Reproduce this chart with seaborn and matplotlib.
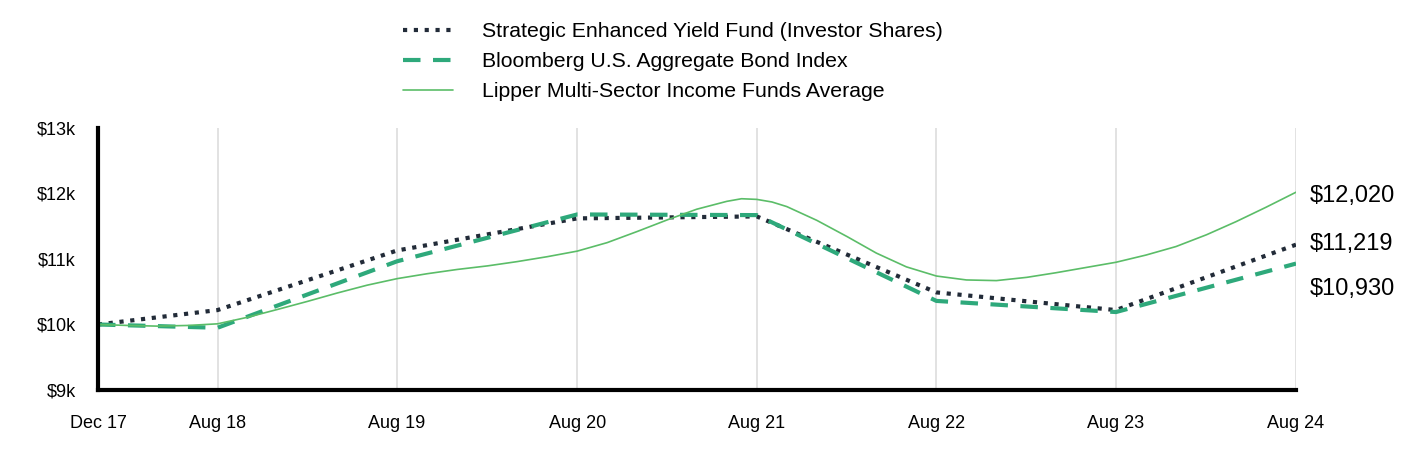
"""Growth of a $10,000 investment: fund vs. index vs. peer average."""

import matplotlib
matplotlib.use("Agg")
import matplotlib.pyplot as plt
import seaborn as sns
import pandas as pd

# yearly points for the fund and the index
dates = ["2017-12-01", "2018-08-01", "2019-08-01", "2020-08-01",
         "2021-08-01", "2022-08-01", "2023-08-01", "2024-08-01"]
tick_labels = ["Dec 17", "Aug 18", "Aug 19", "Aug 20",
               "Aug 21", "Aug 22", "Aug 23", "Aug 24"]
fund = [10000, 10220, 11130, 11620, 11650, 10490, 10220, 11219]
bloomberg = [10000, 9950, 10965, 11680, 11670, 10360, 10190, 10930]

# peer average at more dates
lipper_dates = ["2017-12-01", "2018-02-01", "2018-04-01", "2018-06-01",
                "2018-08-01", "2018-10-01", "2018-12-01", "2019-02-01",
                "2019-04-01", "2019-06-01", "2019-08-01", "2019-10-01",
                "2019-12-01", "2020-02-01", "2020-04-01", "2020-06-01",
                "2020-08-01", "2020-10-01", "2020-12-01", "2021-02-01",
                "2021-04-01", "2021-06-01", "2021-07-01", "2021-08-01",
                "2021-09-01", "2021-10-01", "2021-12-01", "2022-02-01",
                "2022-04-01", "2022-06-01", "2022-08-01", "2022-10-01",
                "2022-12-01", "2023-02-01", "2023-04-01", "2023-06-01",
                "2023-08-01", "2023-10-01", "2023-12-01", "2024-02-01",
                "2024-04-01", "2024-06-01", "2024-08-01"]
lipper = [10000, 9985, 9975, 9985,
          10010, 10110, 10230, 10355,
          10480, 10600, 10700, 10775,
          10840, 10895, 10960, 11035,
          11120, 11250, 11420, 11600,
          11760, 11880, 11920, 11910,
          11870, 11800, 11590, 11340,
          11090, 10880, 10740, 10680,
          10670, 10720, 10790, 10870,
          10950, 11060, 11190, 11370,
          11570, 11790, 12020]

series_names = ["Strategic Enhanced Yield Fund (Investor Shares)",
                "Bloomberg U.S. Aggregate Bond Index",
                "Lipper Multi-Sector Income Funds Average"]
end_labels = ["$11,219", "$10,930", "$12,020"]

sns.set_style("white")
plt.rcParams["font.family"] = ["Liberation Sans", "DejaVu Sans"]
plt.rcParams["text.color"] = "black"
plt.rcParams["xtick.color"] = "black"
plt.rcParams["ytick.color"] = "black"

fig = plt.figure(figsize=(14.28, 4.68), dpi=100)
ax = fig.add_axes([0.0686, 0.1667, 0.839, 0.5598])

x = pd.to_datetime(dates)
xl = pd.to_datetime(lipper_dates)

sns.lineplot(x=x, y=fund, ax=ax, color="#222b38", lw=3,
             linestyle=(0, (1, 1.6)), label=series_names[0])
sns.lineplot(x=x, y=bloomberg, ax=ax, color="#2ea97b", lw=3,
             linestyle=(0, (4.2, 3)), label=series_names[1])
sns.lineplot(x=xl, y=lipper, ax=ax, color="#5bbd68", lw=1.2,
             label=series_names[2])

ax.set_xlim(x[0], x[-1])
ax.set_ylim(9000, 13000)
ax.set_xticks(x)
ax.set_xticklabels(tick_labels, fontsize=13)
ax.set_yticks([9000, 10000, 11000, 12000, 13000])
ax.set_yticklabels(["$9k", "$10k", "$11k", "$12k", "$13k"], fontsize=13)
ax.tick_params(axis="x", length=0, pad=18)
ax.tick_params(axis="y", length=0, pad=16)
ax.set_xlabel("")
ax.set_ylabel("")

ax.grid(axis="x", color="#dddddd", lw=1.2)
ax.grid(axis="y", visible=False)
for side in ["top", "right"]:
    ax.spines[side].set_visible(False)
for side in ["left", "bottom"]:
    ax.spines[side].set_color("black")
    ax.spines[side].set_linewidth(3)
    ax.spines[side].set_zorder(5)

# end-of-period values, nudged apart so they don't collide
ends = [(fund[-1], end_labels[0], 0.5), (bloomberg[-1], end_labels[1], -18.5),
        (lipper[-1], end_labels[2], -2.5)]
for val, txt, dy in ends:
    ax.annotate(txt, xy=(x[-1], val), xytext=(10, dy),
                textcoords="offset points", ha="left", va="center",
                fontsize=17, annotation_clip=False)

leg = ax.legend(loc="upper left", bbox_to_anchor=(0.282, 0.953),
                bbox_transform=fig.transFigure, frameon=False,
                fontsize=15.3, handlelength=2.35, handletextpad=1.4,
                labelspacing=0.52, borderpad=0, borderaxespad=0)

fig.savefig("out.png", dpi=100)
plt.close(fig)
